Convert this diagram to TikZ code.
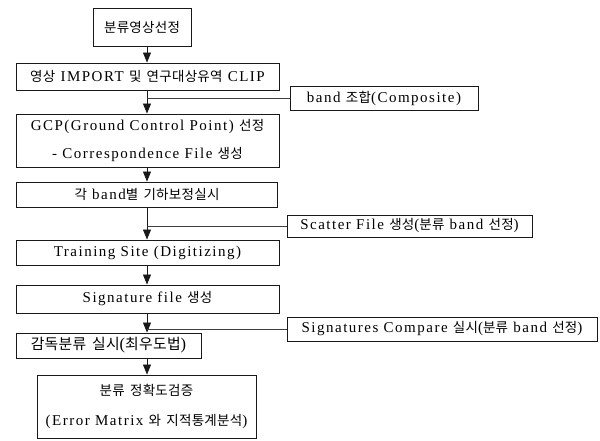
\documentclass[tikz,border=0pt]{standalone}
\usepackage{fontspec}
\setmainfont{Liberation Serif}[LetterSpace=10]
\newfontfamily\krfont{Noto Sans CJK KR}[Scale=0.9,LetterSpace=2]
\newcommand{\kr}[1]{{\krfont #1}}
\usetikzlibrary{arrows.meta}
\begin{document}
\begin{tikzpicture}[x=1pt,y=-1pt,
  box/.style={draw=black!90, line width=0.9pt, inner sep=0pt, align=center,
    font=\fontsize{15}{28}\selectfont},
  arr/.style={-{Triangle[length=10pt,width=8pt]}, line width=0.8pt, draw=black!90},
  con/.style={line width=0.7pt, draw=black!75}]
\useasboundingbox (0,0) rectangle (600,441);
\coordinate (trunk) at (147,0);
\node[box, minimum width=98pt, minimum height=38pt] (b1) at (142,27) {\kr{분류영상선정}};
\node[box, minimum width=263pt, minimum height=27pt] (b2) at (147.5,76.5) {\kr{영상} IMPORT \kr{및} \kr{연구대상유역} CLIP};
\node[box, minimum width=188pt, minimum height=24pt] (band) at (384,98) {band \kr{조합}(Composite)};
\node[box, minimum width=263pt, minimum height=53pt] (b3) at (147.5,140.5) {GCP(Ground Control Point) \kr{선정}\\- Correspondence File \kr{생성}};
\node[box, minimum width=261pt, minimum height=25pt] (b4) at (147,194.5) {\kr{각} band\kr{별} \kr{기하보정실시}};
\node[box, minimum width=245pt, minimum height=22pt] (scatter) at (409.5,226) {Scatter File \kr{생성}(\kr{분류} band \kr{선정})};
\node[box, minimum width=263pt, minimum height=25pt] (b5) at (147.5,252.5) {Training Site (Digitizing)};
\node[box, minimum width=263pt, minimum height=28pt] (b6) at (147.5,299) {Signature file \kr{생성}};
\node[box, minimum width=310pt, minimum height=24pt] (sigcomp) at (442,329) {Signatures Compare \kr{실시}(\kr{분류} band \kr{선정})};
\node[box, minimum width=185pt, minimum height=25pt, font=\fontsize{16.5}{20}\selectfont] (b7) at (108.5,345.5) {\kr{감독분류} \kr{실시}(\kr{최우도법})};
\node[box, minimum width=219pt, minimum height=63pt, font=\fontsize{15}{30}\selectfont] (b8) at (146.5,406.5) {\kr{분류} \kr{정확도검증}\\(Error Matrix \kr{와} \kr{지적통계분석})};
\draw[arr] (b1.south -| trunk) -- (b2.north -| trunk);
\draw[arr] (b2.south -| trunk) -- (b3.north -| trunk);
\draw[arr] (b3.south -| trunk) -- (b4.north -| trunk);
\draw[arr] (b4.south -| trunk) -- (b5.north -| trunk);
\draw[arr] (b5.south -| trunk) -- (b6.north -| trunk);
\draw[arr] (b6.south -| trunk) -- (b7.north -| trunk);
\draw[arr] (b7.south -| trunk) -- (b8.north -| trunk);
\draw[con] (band.west) -- (band.west -| trunk);
\draw[con] (scatter.west) -- (scatter.west -| trunk);
\draw[con] (sigcomp.west) -- (sigcomp.west -| trunk);
\end{tikzpicture}
\end{document}
